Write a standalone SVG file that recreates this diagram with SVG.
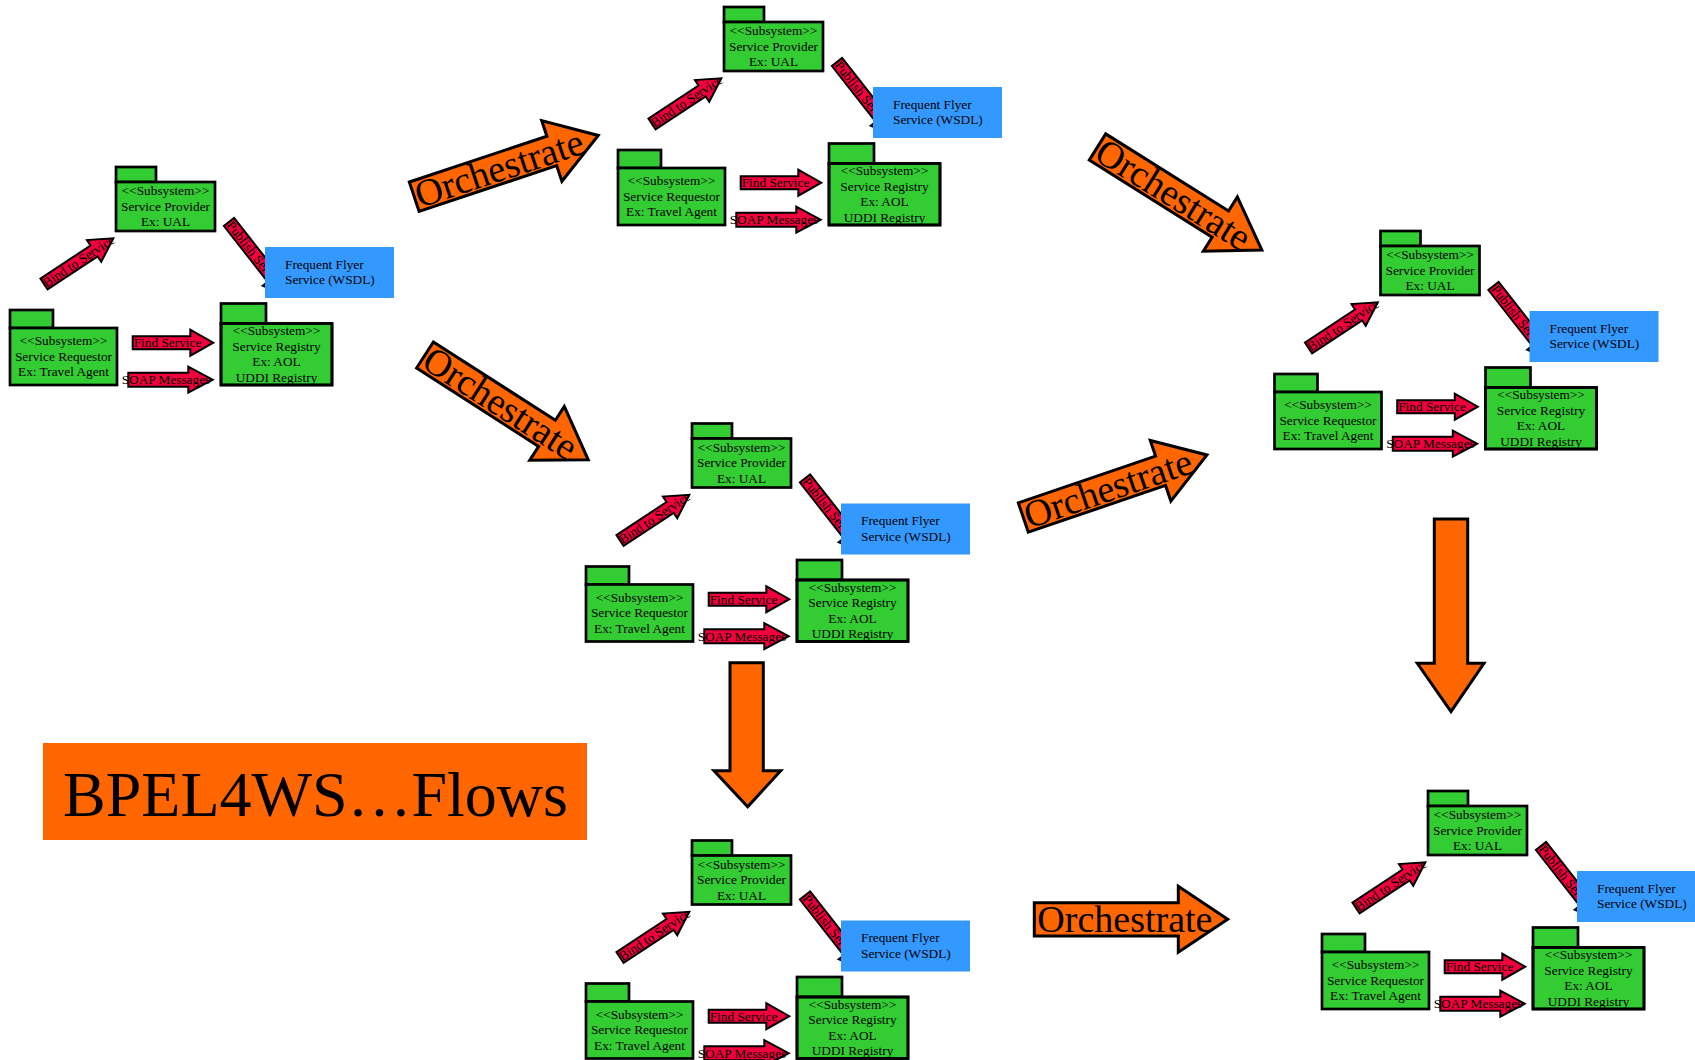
<svg xmlns="http://www.w3.org/2000/svg" width="1695" height="1060" viewBox="0 0 1695 1060">
  <style>
    text { font-family: "Liberation Serif", "Times New Roman", serif; fill: #000; }
    .pkg rect { fill: #33CC33; stroke: #000; stroke-width: 2.7; }
    .pkg rect.edge { fill: none; }
    .pkg text { font-size: 13.3px; text-anchor: middle; }
    .wsdl rect { fill: #3399FF; }
    .wsdl text { font-size: 13.3px; }
    .links polygon { fill: #F0003C; stroke: #000; stroke-width: 2; }
    .links text { font-size: 13.3px; }
    .flow polygon { fill: #FF6600; stroke: #000; stroke-width: 3; }
    .flow text { font-size: 38px; }
    .title rect { fill: #FF6600; }
    .title text { font-size: 64px; }
  </style>
  <rect width="1695" height="1060" fill="#fff"/>

  <!-- Orchestration flow arrows -->
  <g id="flow-arrows" class="flow">
    <g id="flow-1" transform="translate(414.2,196.7) rotate(-18.4)">
      <polygon points="0,-15.5 145,-15.5 145,-32 194,0 145,32 145,15.5 0,15.5"/>
      <text x="2" y="12.5">Orchestrate</text>
    </g>
    <g id="flow-2" transform="translate(425,355) rotate(32.7)">
      <polygon points="0,-15.5 145,-15.5 145,-32 194,0 145,32 145,15.5 0,15.5"/>
      <text x="2" y="12.5">Orchestrate</text>
    </g>
    <g id="flow-3" transform="translate(1097.5,147) rotate(32.1)">
      <polygon points="0,-15.5 145,-15.5 145,-32 194,0 145,32 145,15.5 0,15.5"/>
      <text x="2" y="12.5">Orchestrate</text>
    </g>
    <g id="flow-4" transform="translate(1023.3,517.5) rotate(-18.8)">
      <polygon points="0,-15.5 145,-15.5 145,-32 194,0 145,32 145,15.5 0,15.5"/>
      <text x="2" y="12.5">Orchestrate</text>
    </g>
    <g id="flow-5" transform="translate(1034.3,919.3)">
      <polygon points="0,-16.6 144,-16.6 144,-33 193.4,0 144,33 144,16.6 0,16.6"/>
      <text x="3" y="13">Orchestrate</text>
    </g>
    <polygon id="flow-6" points="730,662.7 763.3,662.7 763.3,770.7 780.7,770.7 747.7,806.7 714,770.7 730,770.7"/>
    <polygon id="flow-7" points="1434.3,519 1467.7,519 1467.7,663.3 1484,663.3 1451,711.7 1417.3,663.3 1434.3,663.3"/>
  </g>

  <!-- Title banner -->
  <g id="title" class="title">
    <rect x="43" y="743" width="544" height="97"/>
    <text x="63" y="816">BPEL4WS…Flows</text>
  </g>

  <!-- Web service triangle 1 -->
  <g id="cluster-1">
    <g id="cluster-1-links" class="links">
      <g transform="translate(44,284) rotate(-33.4)"><polygon points="0,-6.5 60,-6.5 60,-13 83,0 60,13 60,6.5 0,6.5"/><text x="0" y="4.5">Bind to Service</text></g>
      <g transform="translate(229,222) rotate(51.8)"><polygon points="0,-6.5 71,-6.5 71,-13 94,0 71,13 71,6.5 0,6.5"/><text x="1" y="4.5">Publish Service</text></g>
      <g transform="translate(132.7,342.7)"><polygon points="0,-6.5 57.6,-6.5 57.6,-13 80.6,0 57.6,13 57.6,6.5 0,6.5"/><text x="1" y="4.5">Find Service</text></g>
      <g transform="translate(128.3,379.7)"><polygon points="0,-7 60,-7 60,-13 84.4,0 60,13 60,7 0,7"/><text x="-6.6" y="4.5">SOAP Messages</text></g>
    </g>
    <g id="cluster-1-provider" class="pkg">
      <rect x="116" y="167" width="40" height="15"/>
      <rect x="116" y="182" width="99" height="49"/>
      <text x="165.5" y="195">&lt;&lt;Subsystem&gt;&gt;</text>
      <text x="165.5" y="210.5">Service Provider</text>
      <text x="165.5" y="226">Ex: UAL</text>
    </g>
    <g id="cluster-1-requestor" class="pkg">
      <rect x="10" y="310" width="43" height="18"/>
      <rect x="10" y="328" width="107" height="57"/>
      <text x="63.5" y="345">&lt;&lt;Subsystem&gt;&gt;</text>
      <text x="63.5" y="360.5">Service Requestor</text>
      <text x="63.5" y="376">Ex: Travel Agent</text>
    </g>
    <g id="cluster-1-registry" class="pkg">
      <rect x="221" y="303.5" width="45" height="20"/>
      <rect x="221" y="323.5" width="111" height="61.5"/>
      <text x="276.5" y="335">&lt;&lt;Subsystem&gt;&gt;</text>
      <text x="276.5" y="350.7">Service Registry</text>
      <text x="276.5" y="366">Ex: AOL</text>
      <text x="276.5" y="381.7">UDDI Registry</text>
      <rect class="edge" x="221" y="323.5" width="111" height="61.5"/>
    </g>
    <g id="cluster-1-wsdl" class="wsdl">
      <rect x="265" y="247" width="129" height="51"/>
      <text x="285" y="268.5">Frequent Flyer</text>
      <text x="285" y="284">Service (WSDL)</text>
    </g>
  </g>

  <!-- Web service triangle 2 -->
  <g id="cluster-2" transform="translate(608,-160)">
    <g id="cluster-2-links" class="links">
      <g transform="translate(44,284) rotate(-33.4)"><polygon points="0,-6.5 60,-6.5 60,-13 83,0 60,13 60,6.5 0,6.5"/><text x="0" y="4.5">Bind to Service</text></g>
      <g transform="translate(229,222) rotate(51.8)"><polygon points="0,-6.5 71,-6.5 71,-13 94,0 71,13 71,6.5 0,6.5"/><text x="1" y="4.5">Publish Service</text></g>
      <g transform="translate(132.7,342.7)"><polygon points="0,-6.5 57.6,-6.5 57.6,-13 80.6,0 57.6,13 57.6,6.5 0,6.5"/><text x="1" y="4.5">Find Service</text></g>
      <g transform="translate(128.3,379.7)"><polygon points="0,-7 60,-7 60,-13 84.4,0 60,13 60,7 0,7"/><text x="-6.6" y="4.5">SOAP Messages</text></g>
    </g>
    <g id="cluster-2-provider" class="pkg">
      <rect x="116" y="167" width="40" height="15"/>
      <rect x="116" y="182" width="99" height="49"/>
      <text x="165.5" y="195">&lt;&lt;Subsystem&gt;&gt;</text>
      <text x="165.5" y="210.5">Service Provider</text>
      <text x="165.5" y="226">Ex: UAL</text>
    </g>
    <g id="cluster-2-requestor" class="pkg">
      <rect x="10" y="310" width="43" height="18"/>
      <rect x="10" y="328" width="107" height="57"/>
      <text x="63.5" y="345">&lt;&lt;Subsystem&gt;&gt;</text>
      <text x="63.5" y="360.5">Service Requestor</text>
      <text x="63.5" y="376">Ex: Travel Agent</text>
    </g>
    <g id="cluster-2-registry" class="pkg">
      <rect x="221" y="303.5" width="45" height="20"/>
      <rect x="221" y="323.5" width="111" height="61.5"/>
      <text x="276.5" y="335">&lt;&lt;Subsystem&gt;&gt;</text>
      <text x="276.5" y="350.7">Service Registry</text>
      <text x="276.5" y="366">Ex: AOL</text>
      <text x="276.5" y="381.7">UDDI Registry</text>
      <rect class="edge" x="221" y="323.5" width="111" height="61.5"/>
    </g>
    <g id="cluster-2-wsdl" class="wsdl">
      <rect x="265" y="247" width="129" height="51"/>
      <text x="285" y="268.5">Frequent Flyer</text>
      <text x="285" y="284">Service (WSDL)</text>
    </g>
  </g>

  <!-- Web service triangle 3 -->
  <g id="cluster-3" transform="translate(1264.5,64)">
    <g id="cluster-3-links" class="links">
      <g transform="translate(44,284) rotate(-33.4)"><polygon points="0,-6.5 60,-6.5 60,-13 83,0 60,13 60,6.5 0,6.5"/><text x="0" y="4.5">Bind to Service</text></g>
      <g transform="translate(229,222) rotate(51.8)"><polygon points="0,-6.5 71,-6.5 71,-13 94,0 71,13 71,6.5 0,6.5"/><text x="1" y="4.5">Publish Service</text></g>
      <g transform="translate(132.7,342.7)"><polygon points="0,-6.5 57.6,-6.5 57.6,-13 80.6,0 57.6,13 57.6,6.5 0,6.5"/><text x="1" y="4.5">Find Service</text></g>
      <g transform="translate(128.3,379.7)"><polygon points="0,-7 60,-7 60,-13 84.4,0 60,13 60,7 0,7"/><text x="-6.6" y="4.5">SOAP Messages</text></g>
    </g>
    <g id="cluster-3-provider" class="pkg">
      <rect x="116" y="167" width="40" height="15"/>
      <rect x="116" y="182" width="99" height="49"/>
      <text x="165.5" y="195">&lt;&lt;Subsystem&gt;&gt;</text>
      <text x="165.5" y="210.5">Service Provider</text>
      <text x="165.5" y="226">Ex: UAL</text>
    </g>
    <g id="cluster-3-requestor" class="pkg">
      <rect x="10" y="310" width="43" height="18"/>
      <rect x="10" y="328" width="107" height="57"/>
      <text x="63.5" y="345">&lt;&lt;Subsystem&gt;&gt;</text>
      <text x="63.5" y="360.5">Service Requestor</text>
      <text x="63.5" y="376">Ex: Travel Agent</text>
    </g>
    <g id="cluster-3-registry" class="pkg">
      <rect x="221" y="303.5" width="45" height="20"/>
      <rect x="221" y="323.5" width="111" height="61.5"/>
      <text x="276.5" y="335">&lt;&lt;Subsystem&gt;&gt;</text>
      <text x="276.5" y="350.7">Service Registry</text>
      <text x="276.5" y="366">Ex: AOL</text>
      <text x="276.5" y="381.7">UDDI Registry</text>
      <rect class="edge" x="221" y="323.5" width="111" height="61.5"/>
    </g>
    <g id="cluster-3-wsdl" class="wsdl">
      <rect x="265" y="247" width="129" height="51"/>
      <text x="285" y="268.5">Frequent Flyer</text>
      <text x="285" y="284">Service (WSDL)</text>
    </g>
  </g>

  <!-- Web service triangle 4 -->
  <g id="cluster-4" transform="translate(576,256.5)">
    <g id="cluster-4-links" class="links">
      <g transform="translate(44,284) rotate(-33.4)"><polygon points="0,-6.5 60,-6.5 60,-13 83,0 60,13 60,6.5 0,6.5"/><text x="0" y="4.5">Bind to Service</text></g>
      <g transform="translate(229,222) rotate(51.8)"><polygon points="0,-6.5 71,-6.5 71,-13 94,0 71,13 71,6.5 0,6.5"/><text x="1" y="4.5">Publish Service</text></g>
      <g transform="translate(132.7,342.7)"><polygon points="0,-6.5 57.6,-6.5 57.6,-13 80.6,0 57.6,13 57.6,6.5 0,6.5"/><text x="1" y="4.5">Find Service</text></g>
      <g transform="translate(128.3,379.7)"><polygon points="0,-7 60,-7 60,-13 84.4,0 60,13 60,7 0,7"/><text x="-6.6" y="4.5">SOAP Messages</text></g>
    </g>
    <g id="cluster-4-provider" class="pkg">
      <rect x="116" y="167" width="40" height="15"/>
      <rect x="116" y="182" width="99" height="49"/>
      <text x="165.5" y="195">&lt;&lt;Subsystem&gt;&gt;</text>
      <text x="165.5" y="210.5">Service Provider</text>
      <text x="165.5" y="226">Ex: UAL</text>
    </g>
    <g id="cluster-4-requestor" class="pkg">
      <rect x="10" y="310" width="43" height="18"/>
      <rect x="10" y="328" width="107" height="57"/>
      <text x="63.5" y="345">&lt;&lt;Subsystem&gt;&gt;</text>
      <text x="63.5" y="360.5">Service Requestor</text>
      <text x="63.5" y="376">Ex: Travel Agent</text>
    </g>
    <g id="cluster-4-registry" class="pkg">
      <rect x="221" y="303.5" width="45" height="20"/>
      <rect x="221" y="323.5" width="111" height="61.5"/>
      <text x="276.5" y="335">&lt;&lt;Subsystem&gt;&gt;</text>
      <text x="276.5" y="350.7">Service Registry</text>
      <text x="276.5" y="366">Ex: AOL</text>
      <text x="276.5" y="381.7">UDDI Registry</text>
      <rect class="edge" x="221" y="323.5" width="111" height="61.5"/>
    </g>
    <g id="cluster-4-wsdl" class="wsdl">
      <rect x="265" y="247" width="129" height="51"/>
      <text x="285" y="268.5">Frequent Flyer</text>
      <text x="285" y="284">Service (WSDL)</text>
    </g>
  </g>

  <!-- Web service triangle 5 -->
  <g id="cluster-5" transform="translate(576,673.5)">
    <g id="cluster-5-links" class="links">
      <g transform="translate(44,284) rotate(-33.4)"><polygon points="0,-6.5 60,-6.5 60,-13 83,0 60,13 60,6.5 0,6.5"/><text x="0" y="4.5">Bind to Service</text></g>
      <g transform="translate(229,222) rotate(51.8)"><polygon points="0,-6.5 71,-6.5 71,-13 94,0 71,13 71,6.5 0,6.5"/><text x="1" y="4.5">Publish Service</text></g>
      <g transform="translate(132.7,342.7)"><polygon points="0,-6.5 57.6,-6.5 57.6,-13 80.6,0 57.6,13 57.6,6.5 0,6.5"/><text x="1" y="4.5">Find Service</text></g>
      <g transform="translate(128.3,379.7)"><polygon points="0,-7 60,-7 60,-13 84.4,0 60,13 60,7 0,7"/><text x="-6.6" y="4.5">SOAP Messages</text></g>
    </g>
    <g id="cluster-5-provider" class="pkg">
      <rect x="116" y="167" width="40" height="15"/>
      <rect x="116" y="182" width="99" height="49"/>
      <text x="165.5" y="195">&lt;&lt;Subsystem&gt;&gt;</text>
      <text x="165.5" y="210.5">Service Provider</text>
      <text x="165.5" y="226">Ex: UAL</text>
    </g>
    <g id="cluster-5-requestor" class="pkg">
      <rect x="10" y="310" width="43" height="18"/>
      <rect x="10" y="328" width="107" height="57"/>
      <text x="63.5" y="345">&lt;&lt;Subsystem&gt;&gt;</text>
      <text x="63.5" y="360.5">Service Requestor</text>
      <text x="63.5" y="376">Ex: Travel Agent</text>
    </g>
    <g id="cluster-5-registry" class="pkg">
      <rect x="221" y="303.5" width="45" height="20"/>
      <rect x="221" y="323.5" width="111" height="61.5"/>
      <text x="276.5" y="335">&lt;&lt;Subsystem&gt;&gt;</text>
      <text x="276.5" y="350.7">Service Registry</text>
      <text x="276.5" y="366">Ex: AOL</text>
      <text x="276.5" y="381.7">UDDI Registry</text>
      <rect class="edge" x="221" y="323.5" width="111" height="61.5"/>
    </g>
    <g id="cluster-5-wsdl" class="wsdl">
      <rect x="265" y="247" width="129" height="51"/>
      <text x="285" y="268.5">Frequent Flyer</text>
      <text x="285" y="284">Service (WSDL)</text>
    </g>
  </g>

  <!-- Web service triangle 6 -->
  <g id="cluster-6" transform="translate(1312,624)">
    <g id="cluster-6-links" class="links">
      <g transform="translate(44,284) rotate(-33.4)"><polygon points="0,-6.5 60,-6.5 60,-13 83,0 60,13 60,6.5 0,6.5"/><text x="0" y="4.5">Bind to Service</text></g>
      <g transform="translate(229,222) rotate(51.8)"><polygon points="0,-6.5 71,-6.5 71,-13 94,0 71,13 71,6.5 0,6.5"/><text x="1" y="4.5">Publish Service</text></g>
      <g transform="translate(132.7,342.7)"><polygon points="0,-6.5 57.6,-6.5 57.6,-13 80.6,0 57.6,13 57.6,6.5 0,6.5"/><text x="1" y="4.5">Find Service</text></g>
      <g transform="translate(128.3,379.7)"><polygon points="0,-7 60,-7 60,-13 84.4,0 60,13 60,7 0,7"/><text x="-6.6" y="4.5">SOAP Messages</text></g>
    </g>
    <g id="cluster-6-provider" class="pkg">
      <rect x="116" y="167" width="40" height="15"/>
      <rect x="116" y="182" width="99" height="49"/>
      <text x="165.5" y="195">&lt;&lt;Subsystem&gt;&gt;</text>
      <text x="165.5" y="210.5">Service Provider</text>
      <text x="165.5" y="226">Ex: UAL</text>
    </g>
    <g id="cluster-6-requestor" class="pkg">
      <rect x="10" y="310" width="43" height="18"/>
      <rect x="10" y="328" width="107" height="57"/>
      <text x="63.5" y="345">&lt;&lt;Subsystem&gt;&gt;</text>
      <text x="63.5" y="360.5">Service Requestor</text>
      <text x="63.5" y="376">Ex: Travel Agent</text>
    </g>
    <g id="cluster-6-registry" class="pkg">
      <rect x="221" y="303.5" width="45" height="20"/>
      <rect x="221" y="323.5" width="111" height="61.5"/>
      <text x="276.5" y="335">&lt;&lt;Subsystem&gt;&gt;</text>
      <text x="276.5" y="350.7">Service Registry</text>
      <text x="276.5" y="366">Ex: AOL</text>
      <text x="276.5" y="381.7">UDDI Registry</text>
      <rect class="edge" x="221" y="323.5" width="111" height="61.5"/>
    </g>
    <g id="cluster-6-wsdl" class="wsdl">
      <rect x="265" y="247" width="129" height="51"/>
      <text x="285" y="268.5">Frequent Flyer</text>
      <text x="285" y="284">Service (WSDL)</text>
    </g>
  </g>
</svg>
